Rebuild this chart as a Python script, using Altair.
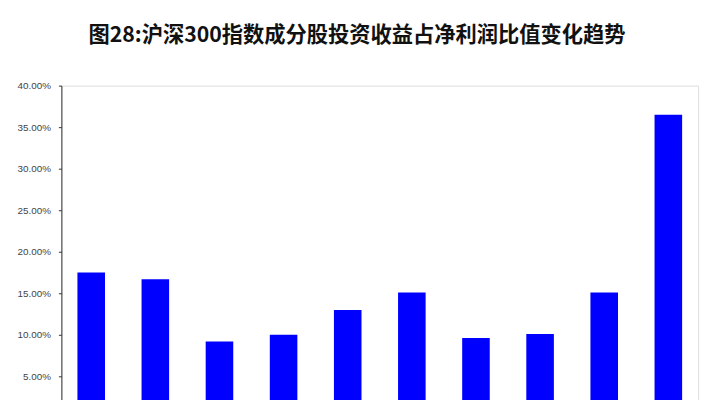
import altair as alt
import pandas as pd

# values (share of net profit)
years = ["2000", "2001", "2002", "2003", "2004", "2005", "2006", "2007", "2008", "2009"]
ratio = [0.175, 0.167, 0.092, 0.100, 0.130, 0.151, 0.096, 0.101, 0.151, 0.365]
y_ticks = [0.05, 0.10, 0.15, 0.20, 0.25, 0.30, 0.35, 0.40]

df = pd.DataFrame({"year": years, "ratio": ratio})

chart = alt.Chart(df).mark_bar(color="#0000ff").encode(
    alt.X("year:N", title=None, sort=None,
          scale=alt.Scale(paddingInner=0.57, paddingOuter=0.25),
          axis=alt.Axis(labels=False, ticks=False, domainColor="#333333")),
    alt.Y("ratio:Q", title=None,
          scale=alt.Scale(domain=[0, 0.4], nice=False),
          axis=alt.Axis(values=y_ticks, format=".2%", grid=False,
                        tickSize=3, tickColor="#333333", domainColor="#333333",
                        labelFont="Liberation Sans", labelFontSize=10,
                        labelColor="#444444", labelPadding=8)),
).properties(
    width=644,
    height=336,
    title=alt.TitleParams(
        "图28:沪深300指数成分股投资收益占净利润比值变化趋势",
        font="Noto Sans CJK SC", fontSize=21.5, fontWeight="bold",
        color="#111111", anchor="middle", dx=-23, offset=35,
    ),
    autosize=alt.AutoSizeParams(type="none"),
    padding={"left": 54, "top": 76, "right": 14, "bottom": 30},
).configure_view(stroke=None).configure(background="white")

chart.save("out.html", embed_options={"renderer": "svg", "actions": False})
